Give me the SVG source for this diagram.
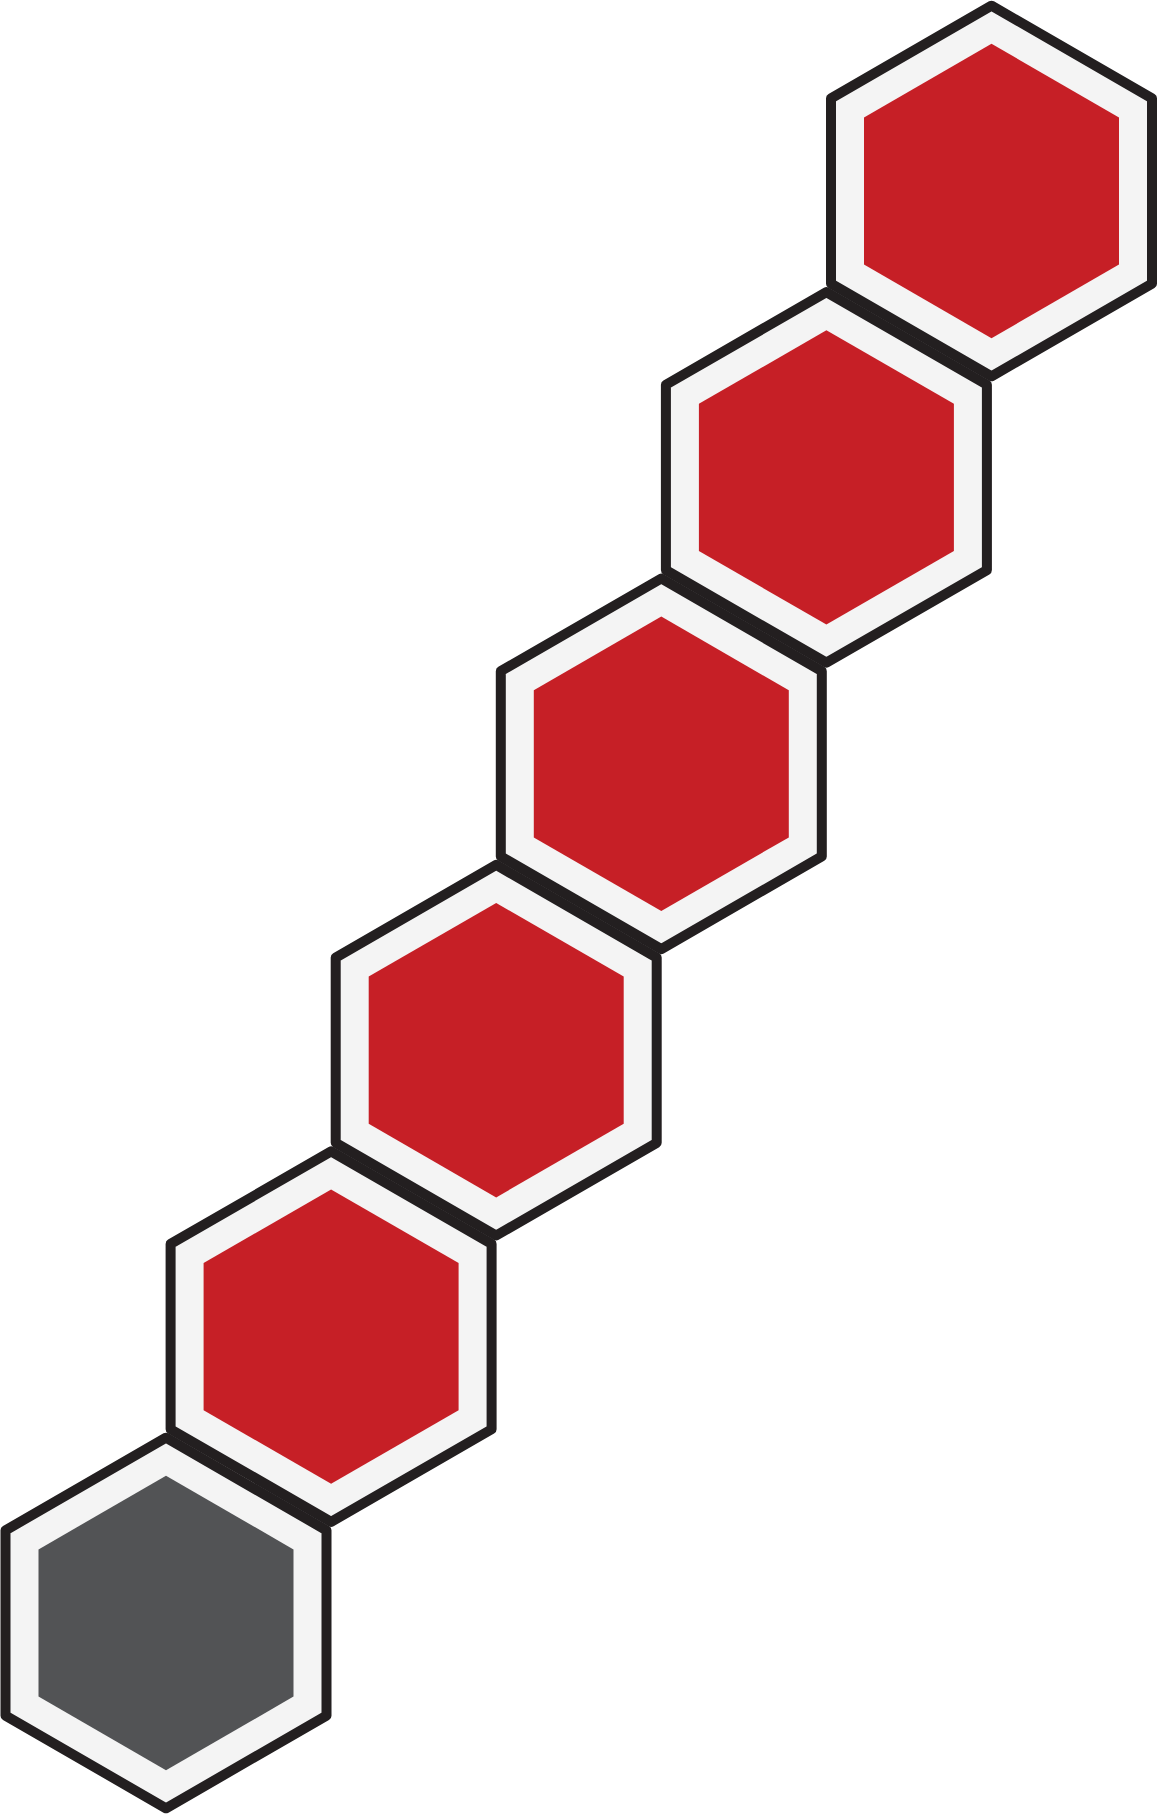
<svg xmlns="http://www.w3.org/2000/svg" xmlns:xlink="http://www.w3.org/1999/xlink" width="1157" height="1814" viewBox="0 0 1157 1814">
<style>
.frame{fill:#f4f4f4;stroke:#231f20;stroke-width:10;stroke-linejoin:round}
.red{fill:#c61f26}
.grey{fill:#525355}
</style>
<defs>
<polygon id="outer" points="0,-185.3 160.5,-92.65 160.5,92.65 0,185.3 -160.5,92.65 -160.5,-92.65"/>
<polygon id="inner" points="0,-147.2 127.5,-73.6 127.5,73.6 0,147.2 -127.5,73.6 -127.5,-73.6"/>
</defs>
<rect width="1157" height="1814" fill="#ffffff"/>
<g id="connectors"/>
<g id="hex1" transform="translate(991.5,191)">
<use xlink:href="#outer" href="#outer" class="frame"/>
<use xlink:href="#inner" href="#inner" class="red"/>
</g>
<g id="hex2" transform="translate(826.4,477.4)">
<use xlink:href="#outer" href="#outer" class="frame"/>
<use xlink:href="#inner" href="#inner" class="red"/>
</g>
<g id="hex3" transform="translate(661.3,763.8)">
<use xlink:href="#outer" href="#outer" class="frame"/>
<use xlink:href="#inner" href="#inner" class="red"/>
</g>
<g id="hex4" transform="translate(496.2,1050.2)">
<use xlink:href="#outer" href="#outer" class="frame"/>
<use xlink:href="#inner" href="#inner" class="red"/>
</g>
<g id="hex5" transform="translate(331.1,1336.6)">
<use xlink:href="#outer" href="#outer" class="frame"/>
<use xlink:href="#inner" href="#inner" class="red"/>
</g>
<g id="hex6" transform="translate(166,1623)">
<use xlink:href="#outer" href="#outer" class="frame"/>
<use xlink:href="#inner" href="#inner" class="grey"/>
</g>
</svg>
